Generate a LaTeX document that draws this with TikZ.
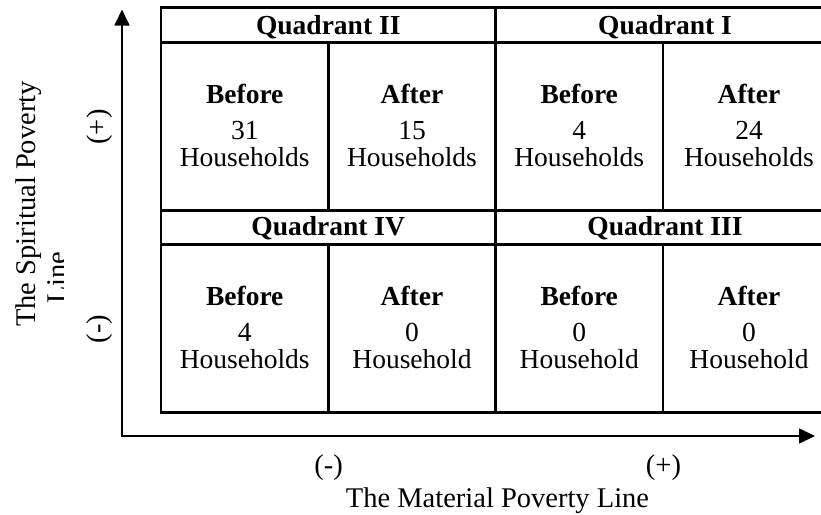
\documentclass[tikz,border=0pt]{standalone}
\usepackage{fontspec}
\setmainfont{Liberation Serif}
\usetikzlibrary{arrows.meta}
\begin{document}
\begin{tikzpicture}[x=1pt,y=-1pt,
  tbl/.style={line width=2.5pt},
  axis/.style={line width=1.7pt,{Triangle[length=16pt,width=15pt]}-{Triangle[length=16pt,width=15pt]}},
  cell/.style={font=\fontsize{27.5}{30}\selectfont, anchor=base, inner sep=0pt},
  hd/.style={cell, font=\fontsize{27.5}{30}\selectfont\bfseries},
  lab/.style={font=\fontsize{28.5}{32}\selectfont, anchor=base, inner sep=0pt}]
\useasboundingbox (0,0) rectangle (821,514);
\clip (0,0) rectangle (821,514);
% table
\draw[tbl] (840,7.3) -- (161,7.3) -- (161,412.7) -- (840,412.7);
\draw[tbl] (161,42.7) -- (840,42.7);
\draw[tbl] (161,210.7) -- (840,210.7);
\draw[tbl] (161,244.3) -- (840,244.3);
\draw[tbl] (495.5,7.3) -- (495.5,412.7);
\foreach \x in {328.5,663}{
  \draw[tbl] (\x,42.7) -- (\x,210.7);
  \draw[tbl] (\x,244.3) -- (\x,412.7);
}
% headers
\node[hd] (q2) at (328.25,34) {Quadrant II};
\node[hd] (q1) at (665,34) {Quadrant I};
\node[hd] (q4) at (328.25,235) {Quadrant IV};
\node[hd] (q3) at (665,235) {Quadrant III};
% cells
\foreach \n/\x/\y/\a/\b/\c in {
  a/244.75/0/Before/31/Households, b/412/0/After/15/Households,
  c/579.25/0/Before/4/Households, d/749/0/After/24/Households,
  e/244.75/201.8/Before/4/Households, f/412/201.8/After/0/Household,
  g/579.25/201.8/Before/0/Household, h/749/201.8/After/0/Household}{
  \node[hd] (\n1) at (\x,103.7+\y) {\a};
  \node[cell] (\n2) at (\x,139.3+\y) {\b};
  \node[cell] (\n3) at (\x,166.7+\y) {\c};
}
% axes
\coordinate (O) at (122,436);
\coordinate (ytip) at (122,9.5);
\coordinate (xtip) at (815,436);
\draw[axis] (ytip) -- (O) -- (xtip);
% axis labels
\node[lab, rotate=90] (ylab) at (35,204) {The Spiritual Poverty};
\begin{scope}
  \clip (0,0) rectangle (63,514);
  \node[lab, rotate=90] (ylab2) at (66.5,277.5) {Line};
\end{scope}
\node[lab, rotate=90] (yplus) at (106,127) {(+)};
\node[lab, rotate=90] (yminus) at (106,329) {(-)};
\node[lab] (xminus) at (328.5,474) {(-)};
\node[lab] (xplus) at (663.5,474) {(+)};
\node[lab] (xlab) at (497.5,507) {The Material Poverty Line};
\end{tikzpicture}
\end{document}
